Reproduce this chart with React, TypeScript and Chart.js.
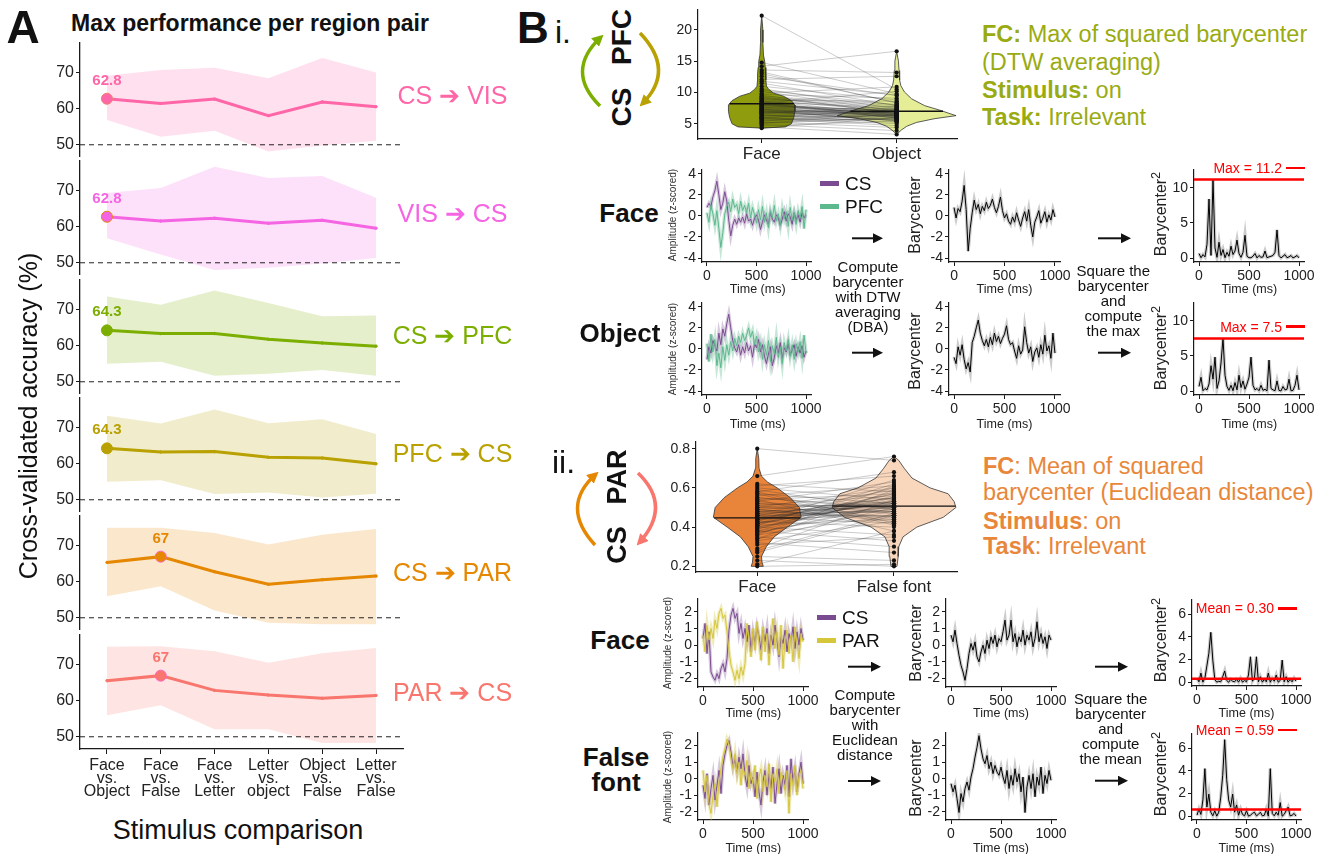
import React, { useEffect, useRef } from 'react';
import { Chart, registerables } from 'chart.js';

Chart.register(...registerables);

const FONT = "'Liberation Sans', Arial, Helvetica, sans-serif";
Chart.defaults.font.family = FONT;

// ======================= DATA =======================
// Panel A
const COMPARISONS = [
  ['Face', 'vs.', 'Object'],
  ['Face', 'vs.', 'False'],
  ['Face', 'vs.', 'Letter'],
  ['Letter', 'vs.', 'object'],
  ['Object', 'vs.', 'False'],
  ['Letter', 'vs.', 'False'],
];
const PAIR_LABELS = ['CS ➔ VIS', 'VIS ➔ CS', 'CS ➔ PFC', 'PFC ➔ CS', 'CS ➔ PAR', 'PAR ➔ CS'];
const Y_TICKS_A = [50, 60, 70];
const CHANCE = 50;

const ACC_CS_VIS = [62.8, 61.5, 62.7, 58.1, 61.9, 60.6];
const ACC_CS_VIS_HI = [69.2, 70.8, 71.4, 68.5, 74.1, 70.1];
const ACC_CS_VIS_LO = [56.9, 52.2, 53.9, 48.1, 49.8, 51.1];

const ACC_VIS_CS = [62.8, 61.6, 62.4, 61.0, 61.8, 59.6];
const ACC_VIS_CS_HI = [69.4, 70.8, 76.7, 73.6, 74.1, 68.1];
const ACC_VIS_CS_LO = [56.8, 52.3, 48.0, 48.6, 49.8, 51.3];

const ACC_CS_PFC = [64.3, 63.4, 63.4, 61.8, 60.8, 59.9];
const ACC_CS_PFC_HI = [73.7, 71.4, 75.4, 71.9, 68.2, 68.4];
const ACC_CS_PFC_LO = [55.0, 55.6, 51.7, 52.2, 53.3, 51.7];

const ACC_PFC_CS = [64.3, 63.3, 63.4, 61.8, 61.6, 60.0];
const ACC_PFC_CS_HI = [73.4, 71.2, 75.1, 71.3, 72.4, 68.3];
const ACC_PFC_CS_LO = [55.0, 55.4, 51.6, 52.0, 50.6, 51.7];

const ACC_CS_PAR = [65.4, 67.0, 62.8, 59.3, 60.6, 61.6];
const ACC_CS_PAR_HI = [75.0, 75.0, 73.6, 70.4, 73.1, 74.7];
const ACC_CS_PAR_LO = [56.0, 58.8, 52.0, 48.6, 48.2, 48.2];

const ACC_PAR_CS = [65.6, 67.0, 62.9, 61.6, 60.7, 61.5];
const ACC_PAR_CS_HI = [75.0, 75.2, 73.8, 70.6, 73.2, 74.7];
const ACC_PAR_CS_LO = [56.0, 58.8, 52.1, 52.1, 48.3, 48.3];

const PEAK_INDEX = [0, 0, 0, 0, 1, 1];

// Panel B i — violin (FC per subject)
const VIOLIN_I_CATS = ['Face', 'Object'];
const FC_I_FACE = [22.3, 14.8, 14.2, 13.6, 13.0, 12.6, 12.1, 11.5, 11.0, 10.6, 10.2, 9.9, 9.6, 9.4, 9.1, 8.9, 8.7, 8.5, 8.3, 8.2, 8.0, 7.9, 7.7, 7.6, 7.4, 7.3, 7.1, 7.0, 6.8, 6.7, 6.5, 6.4, 6.2, 6.0, 5.9, 5.7, 5.5, 5.3, 5.1, 4.9, 4.7, 4.5, 4.3, 8.1, 7.2, 6.6, 9.3, 5.8,
  7.8, 6.9, 8.4, 5.6, 9.0, 7.5, 6.3, 8.8, 5.2, 7.0, 9.7, 6.1, 8.6, 7.3, 5.4, 10.4, 6.8, 7.9, 8.0, 6.4, 9.2, 5.0, 7.6, 8.3, 6.0, 11.8, 7.1, 5.9, 8.5, 6.7, 13.3, 7.4];
const FC_I_OBJECT = [10.5, 9.8, 16.6, 13.2, 8.4, 9.5, 12.6, 7.9, 8.8, 7.4, 7.0, 10.9, 6.6, 8.1, 7.2, 6.9, 6.4, 7.6, 6.2, 5.9, 7.1, 6.7, 6.0, 7.3, 5.7, 6.5, 6.8, 5.5, 6.3, 7.8, 6.1, 5.2, 6.9, 5.0, 4.7, 6.4, 5.8, 4.4, 6.6, 3.9, 5.4, 3.3, 6.0, 7.0, 6.3, 7.5, 6.8, 5.6,
  6.6, 7.2, 5.9, 6.1, 7.7, 6.4, 6.9, 8.6, 5.8, 6.5, 9.1, 6.2, 7.3, 5.4, 6.8, 8.0, 6.3, 7.0, 6.6, 5.7, 7.9, 6.0, 6.7, 10.2, 6.4, 9.6, 5.5, 7.4, 6.1, 6.9, 8.3, 6.5];
const DENS_I_FACE_Y = [4.3, 4.5, 5, 6, 7, 8, 8.7, 9.4, 9.9, 10.5, 11, 12, 13, 14, 15, 16, 18, 20, 22.3];
const DENS_I_FACE = [0, 0.4, 0.5, 0.54, 0.56, 0.56, 0.5, 0.37, 0.2, 0.12, 0.08, 0.07, 0.07, 0.06, 0.05, 0.03, 0.02, 0.02, 0];
const DENS_I_OBJECT_Y = [3.3, 4, 4.6, 5.2, 5.8, 6.3, 6.7, 7.1, 7.9, 9, 10.1, 11.1, 12, 13.5, 15, 16.6];
const DENS_I_OBJECT = [0, 0.08, 0.17, 0.33, 0.63, 1, 0.87, 0.75, 0.47, 0.25, 0.13, 0.07, 0.05, 0.04, 0.03, 0];
const CENTER_I = [8.2, 7.0];
const Y_TICKS_VIOLIN_I = [5, 10, 15, 20];

// Panel B ii — violin
const VIOLIN_II_CATS = ['Face', 'False font'];
const FC_II_FACE = [0.80, 0.66, 0.62, 0.61, 0.60, 0.58, 0.57, 0.56, 0.55, 0.54, 0.53, 0.52, 0.51, 0.50, 0.50, 0.49, 0.48, 0.48, 0.47, 0.46, 0.46, 0.45, 0.45, 0.44, 0.44, 0.43, 0.43, 0.42, 0.42, 0.41, 0.41, 0.40, 0.40, 0.39, 0.38, 0.38, 0.37, 0.36, 0.35, 0.34, 0.33, 0.32, 0.29, 0.28, 0.25, 0.23, 0.21, 0.20,
  0.47, 0.44, 0.52, 0.39, 0.49, 0.42, 0.55, 0.36, 0.46, 0.50, 0.41, 0.58, 0.45, 0.38, 0.53, 0.43, 0.48, 0.40, 0.57, 0.34, 0.47, 0.51, 0.44, 0.31, 0.46, 0.59, 0.42, 0.49, 0.37, 0.54, 0.45, 0.27];
const FC_II_FALSEFONT = [0.74, 0.76, 0.58, 0.66, 0.54, 0.68, 0.52, 0.61, 0.49, 0.57, 0.63, 0.50, 0.56, 0.47, 0.60, 0.53, 0.45, 0.51, 0.59, 0.48, 0.55, 0.42, 0.52, 0.50, 0.46, 0.57, 0.40, 0.53, 0.49, 0.62, 0.44, 0.51, 0.36, 0.55, 0.48, 0.33, 0.52, 0.46, 0.30, 0.50, 0.43, 0.27, 0.54, 0.47, 0.23, 0.20, 0.38, 0.21,
  0.51, 0.55, 0.48, 0.58, 0.44, 0.53, 0.50, 0.61, 0.46, 0.52, 0.57, 0.42, 0.49, 0.56, 0.47, 0.64, 0.50, 0.54, 0.41, 0.59, 0.48, 0.45, 0.52, 0.35, 0.55, 0.49, 0.60, 0.43, 0.51, 0.38, 0.53, 0.46];
const DENS_II_FACE_Y = [0.2, 0.22, 0.25, 0.3, 0.35, 0.4, 0.45, 0.5, 0.55, 0.6, 0.63, 0.66, 0.7, 0.75, 0.8];
const DENS_II_FACE = [0.1, 0.08, 0.07, 0.15, 0.28, 0.5, 0.73, 0.7, 0.55, 0.33, 0.17, 0.07, 0.03, 0.025, 0];
const DENS_II_FF_Y = [0.2, 0.25, 0.3, 0.35, 0.4, 0.45, 0.5, 0.53, 0.57, 0.6, 0.65, 0.7, 0.74, 0.76];
const DENS_II_FF = [0.05, 0.07, 0.08, 0.15, 0.38, 0.82, 1.03, 1, 0.9, 0.6, 0.3, 0.17, 0.08, 0];
const CENTER_II = [0.447, 0.507];
const Y_TICKS_VIOLIN_II = [0.2, 0.4, 0.6, 0.8];

// Time series (sampled every 20 ms)
const TIME_MS = [0, 20, 40, 60, 80, 100, 120, 140, 160, 180, 200, 220, 240, 260, 280, 300, 320, 340, 360, 380, 400, 420, 440, 460, 480, 500, 520, 540, 560, 580, 600, 620, 640, 660, 680, 700, 720, 740, 760, 780, 800, 820, 840, 860, 880, 900, 920, 940, 960, 980, 1000];
const TIME_TICKS = [0, 500, 1000];

const CS_FACE_I = [0.8, 1.2, 0.9, 1.8, 2.4, 3.3, 2.0, 0.6, 1.2, 2.3, 1.4, -0.4, -1.9, -0.9, -0.3, -0.8, -0.2, -0.6, -0.1, -0.7, 0.2, -0.5, -0.3, -0.9, -0.2, 0.1, -0.4, -1.3, -0.6, 0.1, -0.4, -0.8, 0.3, -0.3, -0.6, 0.1, -0.2, -0.9, -0.3, 0.4, -0.5, 0.2, -0.1, -0.8, 0.3, -0.4, 0.1, -0.6, 0.3, -0.2, 0.1];
const PFC_FACE_I = [0.3, -0.6, 1.0, 0.2, -0.9, 0.5, -1.2, -3.0, -1.6, 0.2, 0.9, 1.3, 0.4, 1.6, 0.8, 1.1, 0.2, 1.4, 0.5, 1.0, 0.3, 1.2, -0.2, 0.8, 0.1, -0.7, 0.6, -0.4, 0.9, -0.6, 0.3, -1.1, 0.5, -0.2, 1.0, -0.5, 0.2, -0.9, 0.7, -0.3, 0.4, -1.0, 0.8, -0.4, 0.3, -0.8, 0.5, -0.2, 0.9, -1.2, 0.6];
const CS_OBJ_I = [-1.0, 0.2, -0.4, 0.8, 0.3, -0.2, 1.5, 0.4, 1.9, 1.2, 2.4, 3.3, 2.0, 0.8, 0.1, -0.3, 0.4, -0.6, 0.2, -0.4, 0.6, -0.2, 0.3, -0.8, 0.5, 0.1, 0.9, -0.3, 0.4, -0.7, -1.4, -0.5, 0.2, -1.6, -0.8, 0.3, -0.4, 0.6, -0.9, 0.1, -0.3, 0.5, -0.6, -0.1, 0.4, -0.7, 0.2, -0.4, 0.3, -0.8, -0.2];
const PFC_OBJ_I = [0.5, -1.2, 1.4, -0.3, 0.9, -1.6, -0.4, -1.8, 0.2, -1.1, 0.4, -0.6, 0.7, -0.2, 1.0, 0.3, 1.2, 0.6, 1.5, 0.8, 1.3, 2.0, 1.1, 1.7, 0.4, 1.2, -0.3, 0.6, -1.0, 0.4, -0.6, 0.8, -1.2, 0.3, -0.5, 1.1, -0.8, 0.2, -1.4, 0.6, -0.2, 0.9, -0.7, 0.4, -1.0, 0.5, -0.3, 0.7, -0.9, 1.3, -0.4];
const BARY_FACE_I = [0.8, -0.2, 0.7, 0.4, 1.4, 2.9, 0.6, -3.35, -1.2, 0.3, 1.5, 0.6, 1.1, 0.2, 0.9, 0.5, 1.3, 0.7, 1.0, 1.6, 0.8, 0.3, 0.9, 1.8, 0.5, -0.2, 0.2, -0.5, -0.8, -0.1, -0.6, 0.3, -0.4, -1.0, -0.2, 0.4, -0.5, 0.6, -0.9, -2.0, -0.6, -0.1, 0.5, -0.7, -0.2, 0.4, -0.6, 0.1, -0.4, 0.6, -0.1];
const BARY_OBJ_I = [-0.8, -1.4, 0.2, -0.6, 0.4, -1.0, -1.9, -1.3, -2.2, 0.6, 1.2, 2.0, 2.74, 1.5, 0.8, 0.3, 0.9, 0.2, 1.1, 0.4, 1.5, 0.7, 1.2, 0.5, 1.0, 1.4, 2.2, 0.9, 0.4, 0.6, -0.2, -0.9, 0.3, -0.5, -0.1, 2.1, 0.6, -0.4, 0.2, -1.2, -0.3, 0.1, -0.8, 0.4, -0.5, 1.3, -0.2, 0.3, -0.9, 1.5, -0.4];
const MAX_SQ_I = [11.2, 7.5];

const CS_FACE_II = [0.4, 1.3, -0.5, 0.8, -1.6, -1.9, -2.1, -1.7, -2.0, -1.4, -1.1, -1.6, -0.8, 0.9, 1.8, 2.2, 1.6, 1.9, 0.7, 1.3, 0.4, 1.0, 0.2, 1.2, -0.4, 0.8, 0.1, 1.1, 0.5, -0.3, 0.9, 0.2, 1.0, -0.5, 0.6, 0.0, 1.2, 0.3, -0.7, 0.5, 0.1, 0.9, -0.4, 0.7, 0.2, 1.1, -0.2, 0.8, 0.0, 1.0, 0.3];
const PAR_FACE_II = [0.6, -0.4, 1.2, 0.3, 1.0, 0.4, 1.5, 1.0, 1.9, 2.2, 1.6, 1.8, 0.8, -0.3, -1.2, -1.6, -2.1, -1.5, -2.0, -1.3, -1.8, -1.1, 1.3, 0.4, -0.7, 1.0, -0.3, 1.4, 0.2, -0.9, 1.1, -0.4, 0.7, -1.2, 0.5, 1.6, -0.2, 0.8, -0.6, 1.2, -1.4, 0.3, 0.9, -0.5, 0.6, -1.0, 1.1, 0.1, -0.8, 0.7, 0.2];
const CS_FF_II = [-0.4, -1.2, 0.3, -1.6, -0.6, 0.2, -1.3, -0.4, 0.5, -0.9, 0.8, 1.5, 2.0, 2.3, 1.6, 0.7, 1.2, 0.4, 1.3, 0.6, 1.5, 0.2, -0.5, 0.8, -0.3, 0.1, -1.1, 0.4, -0.8, -1.6, -0.2, 0.5, -1.0, 0.3, -0.6, 0.7, -1.5, -0.3, 0.6, -0.9, 0.2, -0.4, 0.8, -1.1, 1.2, -0.2, 0.6, -0.8, 0.3, 1.0, -0.3];
const PAR_FF_II = [0.5, -0.8, 0.2, -1.5, -2.1, -1.0, -0.3, -1.7, -0.2, 0.6, 1.3, 1.8, 2.4, 2.1, 1.2, 0.6, 1.5, 0.3, 1.0, -0.4, 0.7, 0.2, 1.1, -0.6, 0.4, -0.3, 0.8, -1.2, 0.1, 0.6, -0.8, 0.2, -0.5, 0.9, -1.4, 0.3, -0.2, 0.6, -0.9, 0.4, 0.0, -0.7, 0.5, -2.1, 0.3, -0.4, 0.8, -1.0, 0.2, 0.5, -0.6];
const BARY_FACE_II = [0.6, 0.2, 0.9, 0.1, -0.6, -1.2, -1.6, -2.1, -1.4, -0.5, 0.1, -0.3, 0.2, -0.7, -1.0, -0.4, 0.0, -0.5, 0.3, -0.2, 0.5, 0.1, 0.6, -0.1, 0.4, 0.2, 0.8, 1.5, 0.3, 0.6, 1.5, 0.2, 0.7, -0.1, 0.5, 0.2, 0.9, 0.0, 0.6, 0.3, 0.8, -0.1, 0.4, 1.4, 0.2, 0.7, 0.1, 0.5, -0.2, 0.6, 0.3];
const BARY_FF_II = [-0.3, -0.8, -0.4, -1.2, -2.05, -0.9, -1.4, -0.6, -0.2, -0.7, 0.1, 0.6, 1.3, 1.9, 2.6, 1.8, 1.2, 0.9, 1.4, 0.6, 1.0, 0.3, 0.8, 0.4, 0.2, 0.7, 0.1, -0.3, 0.5, -0.6, 0.2, -0.4, 0.6, -0.2, 0.3, -0.8, 0.1, -2.05, -0.5, 0.2, -0.6, 0.3, -1.1, 0.1, -0.4, 0.7, -0.9, 0.2, -0.3, 0.5, -0.1];
const MEAN_SQ_II = [0.30, 0.59];

const Y_TICKS_AMP_I = [-4, -2, 0, 2, 4];
const Y_TICKS_AMP_II = [-2, -1, 0, 1, 2];
const Y_TICKS_SQ_I = [0, 5, 10];
const Y_TICKS_SQ_II = [0, 2, 4, 6];

// squared barycenters (what the figure describes: square of the barycenter)
const SQ_FACE_I = BARY_FACE_I.map((v) => v * v);
const SQ_OBJ_I = BARY_OBJ_I.map((v) => v * v);
const SQ_FACE_II = BARY_FACE_II.map((v) => v * v);
const SQ_FF_II = BARY_FF_II.map((v) => v * v);

// ======================= STYLE =======================
const COL = {
  csVis: '#ff66a8', visCs: '#f564e3', csPfc: '#7cae00', pfcCs: '#b8a100', csPar: '#e58700', parCs: '#f8766d',
  cs: '#7b4b91', pfc: '#5cb88d', par: '#d5c63a',
  fcI: '#9aab12', fcII: '#e8873a',
};
const AXIS = '#1a1a1a';
const TICK = '#222';
const VIOLIN_HALF = 0.44;

function alpha(hex: string, a: number) {
  const n = parseInt(hex.slice(1), 16);
  return `rgba(${(n >> 16) & 255},${(n >> 8) & 255},${n & 255},${a})`;
}

const PANELS = [
  { mean: ACC_CS_VIS, hi: ACC_CS_VIS_HI, lo: ACC_CS_VIS_LO, color: COL.csVis, edge: '#f08070' },
  { mean: ACC_VIS_CS, hi: ACC_VIS_CS_HI, lo: ACC_VIS_CS_LO, color: COL.visCs, edge: '#e58700' },
  { mean: ACC_CS_PFC, hi: ACC_CS_PFC_HI, lo: ACC_CS_PFC_LO, color: COL.csPfc, edge: COL.csPfc },
  { mean: ACC_PFC_CS, hi: ACC_PFC_CS_HI, lo: ACC_PFC_CS_LO, color: COL.pfcCs, edge: COL.pfcCs },
  { mean: ACC_CS_PAR, hi: ACC_CS_PAR_HI, lo: ACC_CS_PAR_LO, color: COL.csPar, edge: '#ff61c3' },
  { mean: ACC_PAR_CS, hi: ACC_PAR_CS_HI, lo: ACC_PAR_CS_LO, color: COL.parCs, edge: '#ff61c3' },
];
const PANEL_TOPS = [43.1, 161.4, 280.1, 398.1, 516.4, 634.8];
const PANEL_H = 114;
const LABEL_Y = [95, 213.3, 335, 453.3, 571.7, 691.7];

// ======================= HELPERS =======================
type Pads = { padL: number; padT: number; padR: number; padB: number };

function ChartCanvas({ area, pad, config }: any) {
  const ref = useRef<HTMLCanvasElement>(null);
  const al = Math.round(area.l), at = Math.round(area.t), ar = Math.round(area.r), ab = Math.round(area.b);
  const left = al - pad.l, top = at - pad.t, right = ar + pad.r, bottom = ab + pad.b;
  useEffect(() => {
    const chart = new Chart(ref.current as HTMLCanvasElement, config({ padL: pad.l, padT: pad.t, padR: pad.r, padB: pad.b }));
    return () => chart.destroy();
  }, []);
  return (
    <canvas ref={ref} width={right - left} height={bottom - top}
      style={{ position: 'absolute', left, top, width: right - left, height: bottom - top }} />
  );
}

function baseOptions(p: Pads, scales: any) {
  return {
    responsive: false,
    animation: false,
    events: [],
    layout: { autoPadding: false, padding: { left: 0, top: p.padT, right: p.padR, bottom: 0 } },
    plugins: { legend: { display: false }, tooltip: { enabled: false }, title: { display: false } },
    scales,
  };
}

function yAxis(min: number, max: number, ticks: number[], width: number, size: number, fmt?: (v: number) => string) {
  return {
    type: 'linear', position: 'left', min, max,
    afterBuildTicks: (s: any) => { s.ticks = ticks.map((v) => ({ value: v })); },
    afterFit: (s: any) => { s.width = width; s.paddingTop = 0; s.paddingBottom = 0; },
    grid: { drawOnChartArea: false, drawTicks: true, tickLength: 4, color: AXIS, lineWidth: 1 },
    border: { display: true, color: AXIS, width: 1.2 },
    ticks: { font: { family: FONT, size }, color: TICK, padding: 2, autoSkip: false, callback: (v: number) => (fmt ? fmt(v) : String(v)) },
  };
}

function xAxis(min: number, max: number, ticks: number[], height: number, size: number, fmt?: (v: number) => string, pad = 2) {
  return {
    type: 'linear', position: 'bottom', min, max,
    afterBuildTicks: (s: any) => { s.ticks = ticks.map((v) => ({ value: v })); },
    afterFit: (s: any) => { s.height = height; s.paddingLeft = 0; s.paddingRight = 0; },
    grid: { drawOnChartArea: false, drawTicks: true, tickLength: 4, color: AXIS, lineWidth: 1 },
    border: { display: true, color: AXIS, width: 1.2 },
    ticks: { font: { family: FONT, size }, color: TICK, padding: pad, autoSkip: false, maxRotation: 0, minRotation: 0, callback: (v: number) => (fmt ? fmt(v) : String(v)) },
  };
}

function hLinePlugin(id: string, value: number, color: string, width: number, dash: number[]) {
  return {
    id,
    afterDatasetsDraw(chart: any) {
      const y = chart.scales.y.getPixelForValue(value);
      const { left, right } = chart.chartArea;
      const ctx = chart.ctx;
      ctx.save();
      ctx.strokeStyle = color; ctx.lineWidth = width; ctx.setLineDash(dash);
      ctx.beginPath(); ctx.moveTo(left, y); ctx.lineTo(right, y); ctx.stroke();
      ctx.restore();
    },
  };
}

// ----- Panel A config -----
function cfgA(k: number) {
  return (p: Pads) => {
    const P = PANELS[k];
    const peak = PEAK_INDEX[k];
    const last = k === PANELS.length - 1;
    const peakPlugin = {
      id: 'peakLabel',
      afterDatasetsDraw(chart: any) {
        const pt = chart.getDatasetMeta(2).data[peak];
        const ctx = chart.ctx;
        ctx.save();
        ctx.font = `bold 15px ${FONT}`; ctx.fillStyle = P.color; ctx.textAlign = 'center'; ctx.textBaseline = 'middle';
        ctx.fillText(String(+P.mean[peak].toFixed(1)), pt.x, pt.y - 18);
        ctx.restore();
      },
    };
    return {
      type: 'line',
      data: {
        labels: COMPARISONS,
        datasets: [
          { data: P.hi, borderColor: 'rgba(0,0,0,0)', borderWidth: 0, pointRadius: 0, fill: false, order: 1 },
          { data: P.lo, borderColor: 'rgba(0,0,0,0)', borderWidth: 0, pointRadius: 0, fill: '-1', backgroundColor: alpha(P.color, 0.2), order: 1 },
          {
            data: P.mean, borderColor: P.color, borderWidth: 3, tension: 0, fill: false, order: 0,
            pointRadius: P.mean.map((_, i) => (i === peak ? 5.5 : 1.2)),
            pointBackgroundColor: P.color,
            pointBorderColor: P.mean.map((_, i) => (i === peak ? P.edge : P.color)),
            pointBorderWidth: 1,
          },
        ],
      },
      options: baseOptions(p, {
        x: {
          type: 'category', offset: true, display: last,
          afterFit: (s: any) => { s.height = p.padB; s.paddingLeft = 0; s.paddingRight = 0; },
          grid: { offset: false, drawOnChartArea: false, drawTicks: true, tickLength: 5, color: AXIS },
          border: { display: true, color: AXIS, width: 1.3 },
          ticks: { font: { family: FONT, size: 16, lineHeight: 0.82 }, color: TICK, padding: 5, maxRotation: 0, minRotation: 0, autoSkip: false },
        },
        y: { ...yAxis(46.6, 78.3, Y_TICKS_A, p.padL, 16), border: { display: true, color: AXIS, width: 1.3 } },
      }),
      plugins: [hLinePlugin('chance', CHANCE, '#222', 1, [5, 4]), peakPlugin],
    };
  };
}

// ----- time-series config -----
function series(arr: number[], color: string, shade: string, order: number) {
  return [
    { data: TIME_MS.map((t, i) => ({ x: t, y: arr[i] })), borderColor: shade, borderWidth: 3.4, pointRadius: 0, tension: 0, fill: false, order: order + 10 },
    { data: TIME_MS.map((t, i) => ({ x: t, y: arr[i] })), borderColor: color, borderWidth: 1, pointRadius: 0, tension: 0, fill: false, order },
  ];
}

function tsConfig(list: any[], yMin: number, yMax: number, yTicks: number[], plugins: any[] = []) {
  return (p: Pads) => ({
    type: 'line',
    data: { datasets: list.flatMap((s) => series(s.data, s.color, s.shade, s.order)) },
    options: baseOptions(p, {
      x: xAxis(-50, 1050, TIME_TICKS, p.padB, 14),
      y: yAxis(yMin, yMax, yTicks, p.padL, 14),
    }),
    plugins,
  });
}

// ----- violin config -----
function interp(ys: number[], ds: number[], y: number) {
  for (let i = 0; i < ys.length - 1; i++) {
    if (y >= ys[i] && y <= ys[i + 1]) {
      const f = (y - ys[i]) / (ys[i + 1] - ys[i]);
      return ds[i] + f * (ds[i + 1] - ds[i]);
    }
  }
  return 0;
}

function violinConfig(V: any) {
  return (p: Pads) => {
    const polys = V.profiles.map((pr: any, k: number) => {
      const c = k + 1;
      const leftSide = pr.ys.map((y: number, i: number) => ({ x: c - pr.dens[i] * VIOLIN_HALF, y }));
      const rightSide = pr.ys.map((y: number, i: number) => ({ x: c + pr.dens[i] * VIOLIN_HALF, y })).reverse();
      const pts = [...leftSide, ...rightSide, leftSide[0]];
      return { data: pts, fill: 'shape', backgroundColor: pr.fill, borderColor: '#333', borderWidth: 0.8, pointRadius: 0, tension: 0, order: 3 };
    });
    const n = Math.min(V.a.length, V.b.length);
    const pairs: any[] = [];
    for (let i = 0; i < n; i++) pairs.push({ x: 1, y: V.a[i] }, { x: 2, y: V.b[i] }, { x: 2, y: null });
    const dots = [...V.a.map((v: number) => ({ x: 1, y: v })), ...V.b.map((v: number) => ({ x: 2, y: v }))];
    const med: any[] = [];
    V.centers.forEach((m: number, k: number) => {
      const w = interp(V.profiles[k].ys, V.profiles[k].dens, m) * VIOLIN_HALF;
      med.push({ x: k + 1 - w, y: m }, { x: k + 1 + w, y: m }, { x: k + 1 + w, y: null });
    });
    return {
      type: 'line',
      data: {
        datasets: [
          ...polys,
          { data: pairs, borderColor: 'rgba(40,40,40,0.3)', borderWidth: 0.8, pointRadius: 0, tension: 0, fill: false, order: 2 },
          { data: dots, showLine: false, pointRadius: 2.1, pointBackgroundColor: '#111', pointBorderWidth: 0, order: 1 },
          { data: med, borderColor: '#111', borderWidth: 1.4, pointRadius: 0, tension: 0, fill: false, order: 0 },
        ],
      },
      options: baseOptions(p, {
        x: xAxis(V.xMin, V.xMax, [1, 2], p.padB, 17, (v: number) => V.cats[Math.round(v) - 1], 1),
        y: yAxis(V.yMin, V.yMax, V.yTicks, p.padL, 14, V.fmt),
      }),
    };
  };
}

// ======================= TEXT =======================
function Txt({ x, y, size, bold, color, anchor = 'c', rot, lh = 1, children }: any) {
  let tf = anchor === 'l' ? 'translate(0,-50%)' : anchor === 'r' ? 'translate(-100%,-50%)' : 'translate(-50%,-50%)';
  if (rot) tf += ' rotate(-90deg)';
  return (
    <div style={{
      position: 'absolute', left: x, top: y, transform: tf, fontSize: size, fontWeight: bold ? 700 : 400,
      color: color || '#111', whiteSpace: 'pre', lineHeight: lh, textAlign: anchor === 'l' ? 'left' : anchor === 'r' ? 'right' : 'center',
      fontFamily: FONT,
    }}>{children}</div>
  );
}

function Bary2() {
  return <>Barycenter<sup style={{ fontSize: '0.8em', lineHeight: 0 }}>2</sup></>;
}

function Swatch({ x, y, color }: any) {
  return <div style={{ position: 'absolute', left: x, top: y - 2.5, width: 19, height: 5, background: color }} />;
}

function RefLabel({ xEnd, y, text }: any) {
  return (
    <>
      <Txt x={xEnd} y={y} size={14} color="#ff0000" anchor="r">{text}</Txt>
      <div style={{ position: 'absolute', left: xEnd + 4, top: y - 1.25, width: 19, height: 2.5, background: '#ff0000' }} />
    </>
  );
}

function Marker({ id, color, size }: any) {
  return (
    <marker id={id} viewBox="0 0 10 10" refX="7" refY="5" markerWidth={size} markerHeight={size} orient="auto" markerUnits="strokeWidth">
      <path d="M0,0 L10,5 L0,10 z" fill={color} />
    </marker>
  );
}

// ======================= APP =======================
export default function App() {
  const padTS = { l: 30, t: 4, r: 12, b: 22 };
  const padV = { l: 34, t: 4, r: 6, b: 26 };
  const vI = {
    cats: VIOLIN_I_CATS, a: FC_I_FACE, b: FC_I_OBJECT, centers: CENTER_I,
    profiles: [
      { ys: DENS_I_FACE_Y, dens: DENS_I_FACE, fill: '#8e9c0e' },
      { ys: DENS_I_OBJECT_Y, dens: DENS_I_OBJECT, fill: '#e5ee96' },
    ],
    xMin: 0.528, xMax: 2.447, yMin: 2.56, yMax: 23.2, yTicks: Y_TICKS_VIOLIN_I,
  };
  const vII = {
    cats: VIOLIN_II_CATS, a: FC_II_FACE, b: FC_II_FALSEFONT, centers: CENTER_II,
    profiles: [
      { ys: DENS_II_FACE_Y, dens: DENS_II_FACE, fill: '#e9843b' },
      { ys: DENS_II_FF_Y, dens: DENS_II_FF, fill: '#f9d7bd' },
    ],
    xMin: 0.552, xMax: 2.461, yMin: 0.171, yMax: 0.834, yTicks: Y_TICKS_VIOLIN_II, fmt: (v: number) => v.toFixed(1),
  };
  const shadeCS = alpha(COL.cs, 0.3), shadePFC = alpha(COL.pfc, 0.35), shadePAR = alpha(COL.par, 0.35);
  const shadeK = 'rgba(0,0,0,0.2)';

  return (
    <div style={{ position: 'absolute', left: 0, top: 0, width: 1338, height: 854, overflow: 'hidden', background: '#fff', fontFamily: FONT, color: '#111' }}>
      {/* ---------- Panel A ---------- */}
      {PANELS.map((_, k) => (
        <ChartCanvas key={k} area={{ l: 80, t: PANEL_TOPS[k], r: 403, b: PANEL_TOPS[k] + PANEL_H }}
          pad={{ l: 60, t: 2, r: 4, b: k === PANELS.length - 1 ? 62 : 0 }} config={cfgA(k)} />
      ))}
      <Txt x={23} y={27} size={46} bold>A</Txt>
      <Txt x={71} y={23} size={23} bold anchor="l">Max performance per region pair</Txt>
      <Txt x={28} y={416} size={25} rot>Cross-validated accuracy (%)</Txt>
      <Txt x={238} y={830} size={27}>Stimulus comparison</Txt>
      {PAIR_LABELS.map((t, k) => (
        <Txt key={t} x={452.5} y={LABEL_Y[k]} size={25} color={PANELS[k].color}>{t}</Txt>
      ))}

      {/* ---------- Panel B i ---------- */}
      <ChartCanvas area={{ l: 698, t: 10, r: 957, b: 139.3 }} pad={padV} config={violinConfig(vI)} />
      <ChartCanvas area={{ l: 701.7, t: 170, r: 810.6, b: 261.7 }} pad={padTS}
        config={tsConfig([{ data: CS_FACE_I, color: COL.cs, shade: shadeCS, order: 1 }, { data: PFC_FACE_I, color: COL.pfc, shade: shadePFC, order: 0 }], -4.38, 4.36, Y_TICKS_AMP_I)} />
      <ChartCanvas area={{ l: 701.7, t: 302.5, r: 810.6, b: 395 }} pad={padTS}
        config={tsConfig([{ data: CS_OBJ_I, color: COL.cs, shade: shadeCS, order: 1 }, { data: PFC_OBJ_I, color: COL.pfc, shade: shadePFC, order: 0 }], -4.38, 4.36, Y_TICKS_AMP_I)} />
      <ChartCanvas area={{ l: 949.3, t: 170, r: 1060, b: 261.7 }} pad={padTS}
        config={tsConfig([{ data: BARY_FACE_I, color: '#000', shade: shadeK, order: 0 }], -4.38, 4.36, Y_TICKS_AMP_I)} />
      <ChartCanvas area={{ l: 949.3, t: 302.5, r: 1060, b: 395 }} pad={padTS}
        config={tsConfig([{ data: BARY_OBJ_I, color: '#000', shade: shadeK, order: 0 }], -4.38, 4.36, Y_TICKS_AMP_I)} />
      <ChartCanvas area={{ l: 1194.3, t: 170, r: 1304.3, b: 261.7 }} pad={padTS}
        config={tsConfig([{ data: SQ_FACE_I, color: '#000', shade: shadeK, order: 0 }], -0.57, 12.55, Y_TICKS_SQ_I, [hLinePlugin('maxLine', MAX_SQ_I[0], '#ff0000', 2.5, [])])} />
      <ChartCanvas area={{ l: 1194.3, t: 302.5, r: 1304.3, b: 395 }} pad={padTS}
        config={tsConfig([{ data: SQ_OBJ_I, color: '#000', shade: shadeK, order: 0 }], -0.57, 12.55, Y_TICKS_SQ_I, [hLinePlugin('maxLine', MAX_SQ_I[1], '#ff0000', 2.5, [])])} />

      {/* ---------- Panel B ii ---------- */}
      <ChartCanvas area={{ l: 696, t: 441.7, r: 957, b: 571.7 }} pad={padV} config={violinConfig(vII)} />
      <ChartCanvas area={{ l: 698.3, t: 599, r: 808.3, b: 686.7 }} pad={padTS}
        config={tsConfig([{ data: CS_FACE_II, color: COL.cs, shade: shadeCS, order: 1 }, { data: PAR_FACE_II, color: COL.par, shade: shadePAR, order: 0 }], -2.5, 2.76, Y_TICKS_AMP_II)} />
      <ChartCanvas area={{ l: 698.3, t: 733, r: 808.3, b: 820 }} pad={padTS}
        config={tsConfig([{ data: CS_FF_II, color: COL.cs, shade: shadeCS, order: 1 }, { data: PAR_FF_II, color: COL.par, shade: shadePAR, order: 0 }], -2.5, 2.76, Y_TICKS_AMP_II)} />
      <ChartCanvas area={{ l: 946, t: 599, r: 1055.7, b: 686.7 }} pad={padTS}
        config={tsConfig([{ data: BARY_FACE_II, color: '#000', shade: shadeK, order: 0 }], -2.5, 2.76, Y_TICKS_AMP_II)} />
      <ChartCanvas area={{ l: 946, t: 733, r: 1055.7, b: 820 }} pad={padTS}
        config={tsConfig([{ data: BARY_FF_II, color: '#000', shade: shadeK, order: 0 }], -2.5, 2.76, Y_TICKS_AMP_II)} />
      <ChartCanvas area={{ l: 1191.7, t: 600, r: 1301, b: 686 }} pad={padTS}
        config={tsConfig([{ data: SQ_FACE_II, color: '#000', shade: shadeK, order: 0 }], -0.33, 7.26, Y_TICKS_SQ_II, [hLinePlugin('meanLine', MEAN_SQ_II[0], '#ff0000', 2.5, [])])} />
      <ChartCanvas area={{ l: 1191.7, t: 733.5, r: 1301, b: 820 }} pad={padTS}
        config={tsConfig([{ data: SQ_FF_II, color: '#000', shade: shadeK, order: 0 }], -0.33, 7.26, Y_TICKS_SQ_II, [hLinePlugin('meanLine', MEAN_SQ_II[1], '#ff0000', 2.5, [])])} />

      {/* ---------- Panel B labels ---------- */}
      <Txt x={533} y={28} size={44} bold>B</Txt>
      <Txt x={555} y={32} size={32} anchor="l">i.</Txt>
      <Txt x={552} y={462} size={32} anchor="l">ii.</Txt>
      <Txt x={622} y={37} size={28} bold rot>PFC</Txt>
      <Txt x={622} y={107} size={28} bold rot>CS</Txt>
      <Txt x={617} y={477} size={27} bold rot>PAR</Txt>
      <Txt x={617} y={545} size={27} bold rot>CS</Txt>

      <Txt x={982} y={35} size={23.5} color={COL.fcI} anchor="l"><b>FC:</b> Max of squared barycenter</Txt>
      <Txt x={982} y={62.7} size={23.5} color={COL.fcI} anchor="l">(DTW averaging)</Txt>
      <Txt x={982} y={90.7} size={23.5} color={COL.fcI} anchor="l"><b>Stimulus:</b> on</Txt>
      <Txt x={982} y={117.7} size={23.5} color={COL.fcI} anchor="l"><b>Task:</b> Irrelevant</Txt>

      <Txt x={983} y={466.7} size={23.5} color={COL.fcII} anchor="l"><b>FC</b>: Mean of squared</Txt>
      <Txt x={983} y={493.3} size={23.5} color={COL.fcII} anchor="l">barycenter (Euclidean distance)</Txt>
      <Txt x={983} y={521.7} size={23.5} color={COL.fcII} anchor="l"><b>Stimulus</b>: on</Txt>
      <Txt x={983} y={547.3} size={23.5} color={COL.fcII} anchor="l"><b>Task</b>: Irrelevant</Txt>

      <Txt x={629} y={213} size={26} bold>Face</Txt>
      <Txt x={620} y={333} size={26} bold>Object</Txt>
      <Txt x={620} y={640} size={26} bold>Face</Txt>
      <Txt x={616} y={770} size={26} bold lh={0.97}>{'False\nfont'}</Txt>

      <Swatch x={820} y={183} color={COL.cs} />
      <Txt x={845} y={183} size={19} anchor="l">CS</Txt>
      <Swatch x={820} y={206} color={COL.pfc} />
      <Txt x={845} y={206} size={19} anchor="l">PFC</Txt>
      <Swatch x={817} y={617} color={COL.cs} />
      <Txt x={842} y={617} size={19} anchor="l">CS</Txt>
      <Swatch x={817} y={640} color={COL.par} />
      <Txt x={842} y={640} size={19} anchor="l">PAR</Txt>

      {/* axis titles */}
      <Txt x={672.7} y={215} size={10} rot color="#333">Amplitude (z-scored)</Txt>
      <Txt x={672.7} y={349} size={10} rot color="#333">Amplitude (z-scored)</Txt>
      <Txt x={668} y={643} size={10} rot color="#333">Amplitude (z-scored)</Txt>
      <Txt x={668} y={777} size={10} rot color="#333">Amplitude (z-scored)</Txt>
      <Txt x={915} y={215} size={16} rot color="#222">Barycenter</Txt>
      <Txt x={915} y={351} size={16} rot color="#222">Barycenter</Txt>
      <Txt x={916} y={643} size={16} rot color="#222">Barycenter</Txt>
      <Txt x={916} y={778} size={16} rot color="#222">Barycenter</Txt>
      <Txt x={1161} y={214} size={16} rot color="#222"><Bary2 /></Txt>
      <Txt x={1161} y={348} size={16} rot color="#222"><Bary2 /></Txt>
      <Txt x={1161} y={640} size={16} rot color="#222"><Bary2 /></Txt>
      <Txt x={1161} y={774} size={16} rot color="#222"><Bary2 /></Txt>

      {[[757.7, 289.3], [1004.5, 289.3], [1249.3, 289.3], [757.7, 423.5], [1004.5, 423.5], [1249.3, 423.5],
        [753.3, 713], [1001, 713], [1246.5, 713], [753.3, 847.5], [1001, 847.5], [1246.5, 847.5]].map(([x, y], i) => (
        <Txt key={i} x={x} y={y} size={12.5} color="#222">Time (ms)</Txt>
      ))}

      <RefLabel xEnd={1282} y={168} text={`Max = ${MAX_SQ_I[0]}`} />
      <RefLabel xEnd={1282} y={326.7} text={`Max = ${MAX_SQ_I[1]}`} />
      <RefLabel xEnd={1274} y={608.3} text={`Mean = ${MEAN_SQ_II[0].toFixed(2)}`} />
      <RefLabel xEnd={1274} y={730} text={`Mean = ${MEAN_SQ_II[1].toFixed(2)}`} />

      <Txt x={868} y={296.2} size={15} lh={1.0} color="#111">{'Compute\nbarycenter\nwith DTW\naveraging\n(DBA)'}</Txt>
      <Txt x={1113.3} y={299.6} size={15} lh={1.0} color="#111">{'Square the\nbarycenter\nand\ncompute\nthe max'}</Txt>
      <Txt x={865} y={724.2} size={15} lh={1.0} color="#111">{'Compute\nbarycenter\nwith\nEuclidean\ndistance'}</Txt>
      <Txt x={1110.7} y={727.7} size={15} lh={1.0} color="#111">{'Square the\nbarycenter\nand\ncompute\nthe mean'}</Txt>

      {/* ---------- arrows ---------- */}
      <svg width={1338} height={854} style={{ position: 'absolute', left: 0, top: 0, pointerEvents: 'none' }}>
        <defs>
          <Marker id="ah-k" color="#111" size={5} />
          <Marker id="ah-g" color={COL.csPfc} size={3.3} />
          <Marker id="ah-o" color={COL.pfcCs} size={3.3} />
          <Marker id="ah-or" color={COL.csPar} size={3.3} />
          <Marker id="ah-s" color={COL.parCs} size={3.3} />
        </defs>
        {[[852, 238.3, 884], [852, 352.7, 884], [1098, 238.3, 1132], [1098, 352.7, 1132],
          [848, 666.7, 882], [848, 781, 882], [1095, 666.7, 1129], [1095, 780.7, 1129]].map(([x1, y, x2], i) => (
          <line key={i} x1={x1} y1={y} x2={x2 - 4} y2={y} stroke="#111" strokeWidth={2} markerEnd="url(#ah-k)" />
        ))}
        <path d="M600 106 Q564.5 71 601 37" fill="none" stroke={COL.csPfc} strokeWidth={3.5} markerEnd="url(#ah-g)" />
        <path d="M640 33 Q676 70.5 642 104" fill="none" stroke={COL.pfcCs} strokeWidth={3.5} markerEnd="url(#ah-o)" />
        <path d="M595 545 Q559.5 506.5 596 474" fill="none" stroke={COL.csPar} strokeWidth={3.5} markerEnd="url(#ah-or)" />
        <path d="M638 473 Q672.5 506 639 543" fill="none" stroke={COL.parCs} strokeWidth={3.5} markerEnd="url(#ah-s)" />
      </svg>
    </div>
  );
}
